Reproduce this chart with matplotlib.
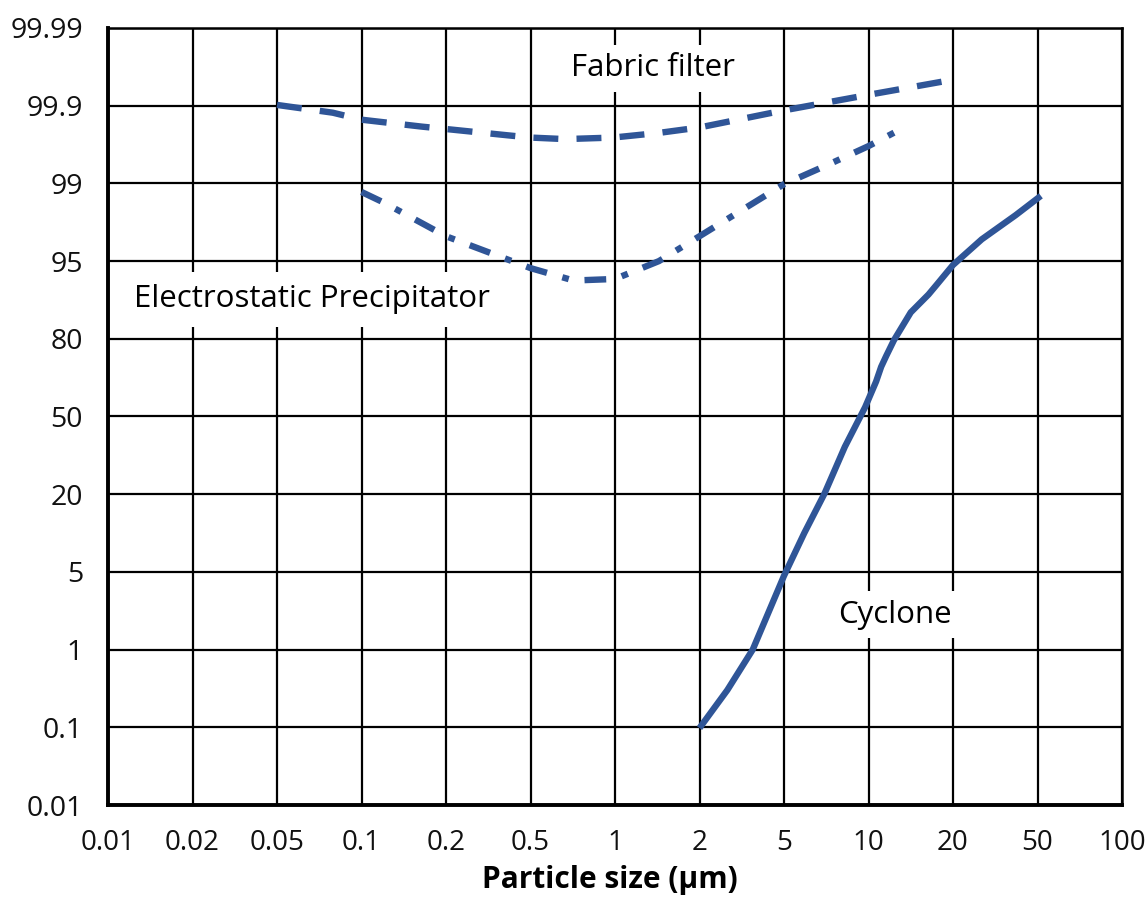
import matplotlib
matplotlib.use("Agg")
import matplotlib.pyplot as plt

# Tick labels (evenly spaced categories)
x_labels = ["0.01", "0.02", "0.05", "0.1", "0.2", "0.5", "1", "2", "5", "10", "20", "50", "100"]
y_labels = ["0.01", "0.1", "1", "5", "20", "50", "80", "95", "99", "99.9", "99.99"]

# Curves in tick-index coordinates
fabric_x = [2.0, 2.66, 3.0, 3.72, 4.0, 4.72, 5.0, 5.41, 5.98, 6.52, 7.0, 8.0, 9.0, 9.875]
fabric_y = [9.01, 8.91, 8.82, 8.73, 8.70, 8.62, 8.59, 8.57, 8.59, 8.65, 8.72, 8.94, 9.14, 9.31]

esp_x = [3.0, 3.27, 4.0, 5.0, 5.51, 6.0, 6.52, 7.0, 8.0, 8.54, 9.0, 9.42]
esp_y = [7.89, 7.75, 7.32, 6.91, 6.75, 6.77, 7.0, 7.32, 7.99, 8.25, 8.48, 8.72]

cyc_x = [7.0, 7.33, 7.63, 8.0, 8.24, 8.48, 8.72, 8.96, 9.09, 9.15, 9.21, 9.3, 9.5, 9.71, 9.81, 10.0, 10.34, 10.74, 11.04]
cyc_y = [0.99, 1.48, 2.0, 2.95, 3.5, 4.01, 4.61, 5.12, 5.45, 5.64, 5.78, 5.98, 6.34, 6.57, 6.70, 6.95, 7.28, 7.59, 7.84]

BLUE = "#2F5597"
plt.rcParams['font.family'] = ['Open Sans', 'DejaVu Sans']

fig = plt.figure(figsize=(11.48, 8.97), dpi=100)
ax = fig.add_axes([108/1148, 92/897, (1122-108)/1148, (805-28)/897])

ax.set_xlim(0, len(x_labels) - 1)
ax.set_ylim(0, len(y_labels) - 1)
ax.set_xticks(range(len(x_labels)))
ax.set_xticklabels(x_labels)
ax.set_yticks(range(len(y_labels)))
ax.set_yticklabels(y_labels)
ax.tick_params(length=0, colors="#111111")
ax.tick_params(axis="x", labelsize=20, pad=17)
ax.tick_params(axis="y", labelsize=20.5, pad=18)
ax.grid(True, color="black", linewidth=1.6, zorder=1)
ax.set_axisbelow(True)

for side in ["top", "right"]:
    ax.spines[side].set_linewidth(1.8)
for side in ["left", "bottom"]:
    ax.spines[side].set_linewidth(2.8)
for s in ax.spines.values():
    s.set_zorder(5)

lw = 4.6
ax.plot(fabric_x, fabric_y, color=BLUE, lw=lw, dashes=(3.9, 2.85), dash_capstyle="butt", zorder=3)
ax.plot(esp_x, esp_y, color=BLUE, lw=lw, dashes=(3.4, 2.5, 1.05, 2.5), dash_capstyle="butt", zorder=3)
ax.plot(cyc_x, cyc_y, color=BLUE, lw=lw, solid_capstyle="butt", solid_joinstyle="round", zorder=3)

ax.text(6.45, 9.48, "Fabric filter", ha="center", va="center", fontsize=22.5,
        bbox=dict(facecolor="white", edgecolor="none", pad=6), zorder=4)
ax.text(2.41, 6.51, "Electrostatic Precipitator", ha="center", va="center", fontsize=22.5,
        bbox=dict(facecolor="white", edgecolor="none", pad=9), zorder=4)
ax.text(9.31, 2.45, "Cyclone", ha="center", va="center", fontsize=22.5,
        bbox=dict(facecolor="white", edgecolor="none", pad=6), zorder=4)

fig.text(610/1148, 1 - 880/897, "Particle size (\u00b5m)", ha="center", va="center",
         fontsize=21.5, fontweight="bold")

fig.savefig("out.png", dpi=100)
